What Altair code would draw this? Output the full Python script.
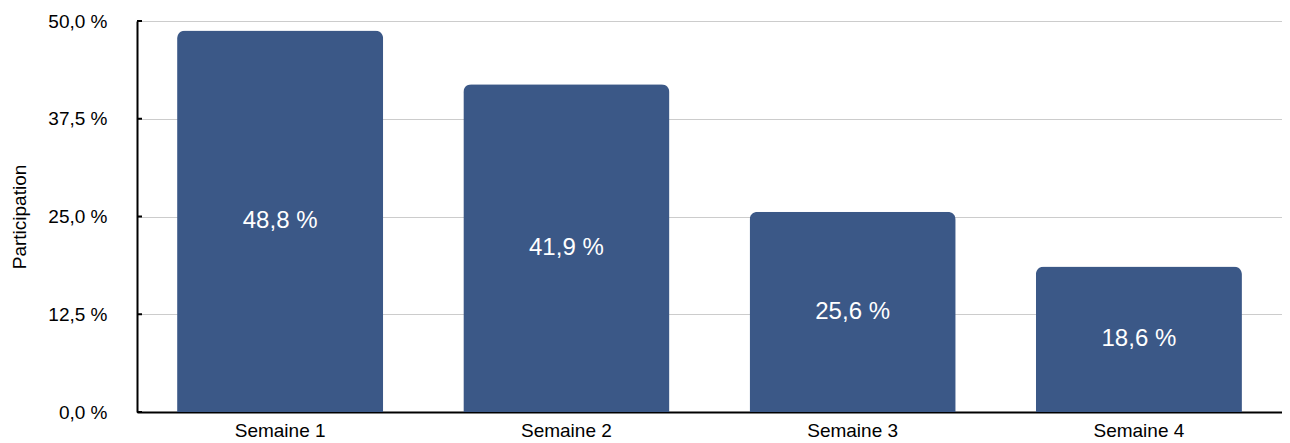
import altair as alt
import pandas as pd

semaines = ["Semaine 1", "Semaine 2", "Semaine 3", "Semaine 4"]
participation = [48.8, 41.9, 25.6, 18.6]
tick_values = [0, 12.5, 25, 37.5, 50]

df = pd.DataFrame({"semaine": semaines, "participation": participation})
ticks_df = pd.DataFrame({"t": tick_values})

FONT = "Liberation Sans"
fr_expr = "replace(format(datum.value, '.1f'), '.', ',') + ' %'"

x = alt.X("semaine:N", sort=semaines, title=None,
          scale=alt.Scale(paddingInner=0.28, paddingOuter=0.14),
          axis=alt.Axis(labelAngle=0, labelFontSize=19, labelColor="black",
                        labelFont=FONT, ticks=False, labelPadding=9,
                        domainColor="black", domainWidth=2))
yscale = alt.Scale(domain=[0, 50], nice=False)

bars = alt.Chart(df).mark_bar(color="#3B5887", cornerRadiusTopLeft=8,
                              cornerRadiusTopRight=8).encode(
    x=x,
    y=alt.Y("participation:Q", scale=yscale, title="Participation",
            axis=alt.Axis(values=tick_values, labelExpr=fr_expr, labelFontSize=19,
                          labelColor="black", labelFont=FONT, ticks=False,
                          labelPadding=30, titleFont=FONT, titleFontSize=19,
                          titleFontWeight="normal", titleColor="black",
                          titlePadding=18, domainColor="black", domainWidth=2,
                          gridColor="#cccccc", gridWidth=1)),
)

labels = alt.Chart(df).transform_calculate(
    mid="datum.participation / 2",
    lab="replace(format(datum.participation, '.1f'), '.', ',') + ' %'",
).mark_text(color="white", fontSize=24, font=FONT, baseline="middle").encode(
    x=alt.X("semaine:N", sort=semaines),
    y=alt.Y("mid:Q", scale=yscale),
    text="lab:N",
)

ticks = alt.Chart(ticks_df).mark_rule(color="black", strokeWidth=2).encode(
    x=alt.value(0), x2=alt.value(5),
    y=alt.Y("t:Q", scale=yscale),
)

chart = alt.layer(bars, labels, ticks).properties(
    width=1145, height=391,
    autosize=alt.AutoSizeParams(type="none"),
    padding={"left": 129, "top": 13, "right": 0, "bottom": 30},
).configure_view(stroke=None).configure_axis(labelFont=FONT)

chart.save("out.html", embed_options={"renderer": "svg", "actions": False})
